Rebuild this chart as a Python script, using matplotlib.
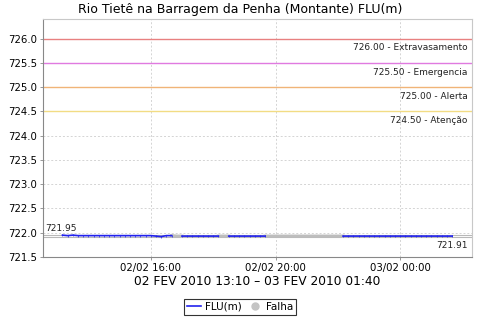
import numpy as np
import pandas as pd
import matplotlib
matplotlib.use("Agg")
import matplotlib.pyplot as plt
import matplotlib.dates as mdates

# leituras a cada 10 min, 13:10 -> 01:40 (NaN = falha)
inicio = "2010-02-02 13:10"
nan = np.nan
flu = [721.95, 721.94, 721.95, 721.94, 721.94, 721.94, 721.94, 721.94, 721.94, 721.94,
       721.94, 721.94, 721.94, 721.94, 721.94, 721.94, 721.94, 721.94, 721.93, 721.92,
       721.94, 721.94, nan, 721.93, 721.93, 721.93, 721.93, 721.93, 721.93, 721.93,
       721.93, nan, 721.93, 721.93, 721.93, 721.93, 721.93, 721.93, 721.93, 721.93,
       nan, nan, nan, nan, nan, nan, nan, nan, nan, nan,
       nan, nan, nan, nan, 721.93, 721.93, 721.93, 721.93, 721.93, 721.93,
       721.93, 721.93, 721.93, 721.93, 721.93, 721.93, 721.93, 721.93, 721.93, 721.93,
       721.93, 721.93, 721.93, 721.93, 721.93, 721.93]
falha = [nan] * 21 + [721.94, 721.93, 721.93] + [nan] * 6 + [721.93, 721.93, 721.93] + [nan] * 6 \
    + [721.93] * 16 + [nan] * 21
cotas = [726.0, 725.5, 725.0, 724.5]
cotas_nome = ["726.00 - Extravasamento", "725.50 - Emergencia", "725.00 - Alerta", "724.50 - Atenção"]
cotas_cor = ["#e88080", "#e07ae0", "#f0b478", "#f2dc84"]
vmax, vmin = 721.95, 721.91
ticks_x = ["2010-02-02 16:00", "2010-02-02 20:00", "2010-02-03 00:00"]
ticks_y = [721.5, 722.0, 722.5, 723.0, 723.5, 724.0, 724.5, 725.0, 725.5, 726.0]

t = pd.date_range(inicio, periods=len(flu), freq="10min")
flu = np.array(flu)
falha = np.array(falha)

plt.rcParams["font.family"] = "DejaVu Sans"
fig = plt.figure(figsize=(4.8, 3.2), dpi=100)
ax = fig.add_axes([0.0896, 0.197, 0.893, 0.744])

for v, nome, cor in zip(cotas, cotas_nome, cotas_cor):
    ax.axhline(v, color=cor, lw=1, zorder=2)
    ax.annotate(nome, xy=(0.99, v), xycoords=("axes fraction", "data"), xytext=(0, -6.5),
                textcoords="offset points", ha="right", va="center", fontsize=6.5, color="#222222")

ax.axhline(vmax, color="#b8b8b8", lw=0.8, zorder=2)
ax.axhline(vmin, color="#b8b8b8", lw=0.8, zorder=2)
ax.plot(t, falha, color="#bdbdbd", lw=2.2, zorder=3)
ax.plot(t, flu, color="#2222ee", lw=1.2, marker="|", markersize=1.8, markeredgewidth=0.5, zorder=4)
ax.annotate("%.2f" % vmax, xy=(0.005, vmax), xycoords=("axes fraction", "data"), xytext=(0, 5),
            textcoords="offset points", ha="left", va="center", fontsize=6.5, color="#222222")
ax.annotate("%.2f" % vmin, xy=(0.99, vmin), xycoords=("axes fraction", "data"), xytext=(0, -6),
            textcoords="offset points", ha="right", va="center", fontsize=6.5, color="#222222")

margem = (t[-1] - t[0]) * 0.05
ax.set_xlim(t[0] - margem, t[-1] + margem)
ax.set_ylim(721.5, 726.41)
ax.set_yticks(ticks_y)
ax.set_yticklabels(["%.1f" % v for v in ticks_y])
ax.set_xticks(pd.to_datetime(ticks_x))
ax.xaxis.set_major_formatter(mdates.DateFormatter("%d/%m %H:%M"))
ax.grid(True, color="#d4d4d4", ls=(0, (2, 2)), lw=0.7)
ax.set_axisbelow(True)
ax.tick_params(labelsize=7.3, length=2.5, width=0.6, color="#888888", pad=2)
for s in ax.spines.values():
    s.set_color("#c8c8c8")
    s.set_linewidth(0.8)
ax.spines["left"].set_color("#888888")
ax.spines["bottom"].set_color("#888888")

ax.set_title("Rio Tietê na Barragem da Penha (Montante) FLU(m)", fontsize=9, pad=4, x=0.46)
ax.set_xlabel("02 FEV 2010 13:10 – 03 FEV 2010 01:40", fontsize=8.8, labelpad=1)

h1, = ax.plot([], [], color="#2222ee", lw=1.2, label="FLU(m)")
h2, = ax.plot([], [], ls="none", marker="o", color="#c4c4c4", markersize=5, label="Falha")
fig.legend(handles=[h1, h2], loc="lower center", bbox_to_anchor=(0.5, 0.0), ncol=2, fontsize=7.5,
           frameon=True, fancybox=False, edgecolor="black", handlelength=1.4, handletextpad=0.4,
           columnspacing=0.5, borderpad=0.3)
fig.legends[0].get_frame().set_linewidth(0.8)

fig.savefig("out.png", dpi=100)
